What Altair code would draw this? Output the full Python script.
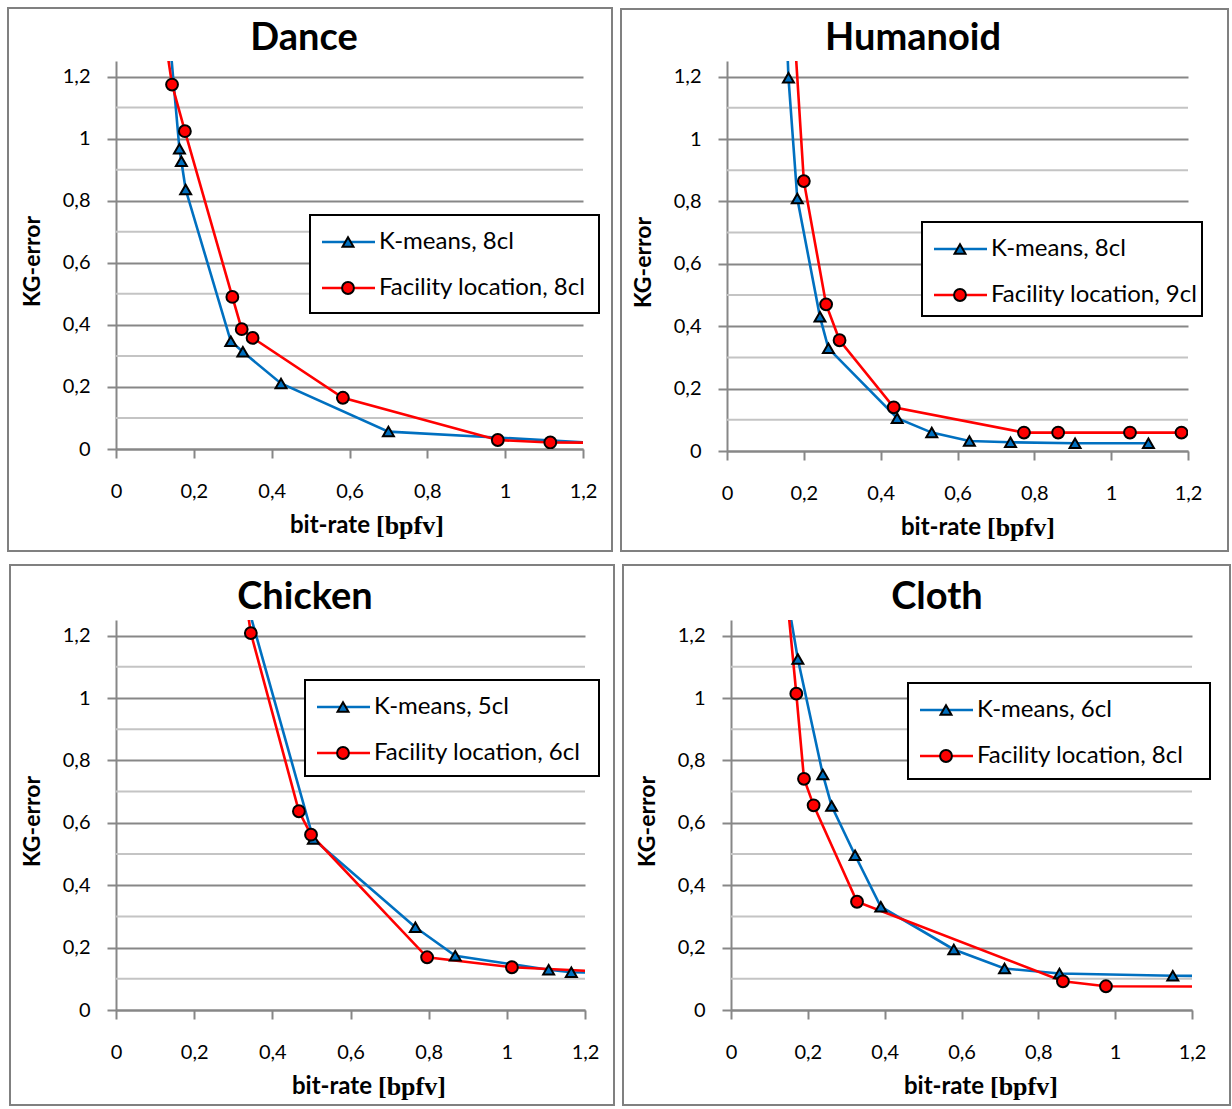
import altair as alt
import pandas as pd

# ---------------- data ----------------
panel_titles = ["Dance", "Humanoid", "Chicken", "Cloth"]
km_labels = ["K-means, 8cl", "K-means, 8cl", "K-means, 5cl", "K-means, 6cl"]
fl_labels = ["Facility location, 8cl", "Facility location, 9cl",
             "Facility location, 6cl", "Facility location, 8cl"]

axis_ticks = [0, 0.2, 0.4, 0.6, 0.8, 1.0, 1.2]
minor_grid = [0.1, 0.3, 0.5, 0.7, 0.9, 1.1]

dance_km_x = [0.129, 0.163, 0.168, 0.179, 0.295, 0.326, 0.424, 0.700, 1.30]
dance_km_y = [1.45, 0.967, 0.927, 0.836, 0.347, 0.313, 0.211, 0.056, 0.015]
dance_fl_x = [0.115, 0.144, 0.177, 0.299, 0.323, 0.351, 0.583, 0.981, 1.116, 1.30]
dance_fl_y = [1.42, 1.174, 1.024, 0.490, 0.386, 0.358, 0.165, 0.029, 0.021, 0.02]

humanoid_km_x = [0.152, 0.160, 0.183, 0.242, 0.264, 0.443, 0.533, 0.631, 0.738, 0.906, 1.097]
humanoid_km_y = [1.45, 1.196, 0.809, 0.430, 0.329, 0.105, 0.059, 0.032, 0.028, 0.025, 0.025]
humanoid_fl_x = [0.170, 0.200, 0.258, 0.293, 0.434, 0.773, 0.862, 1.049, 1.183]
humanoid_fl_y = [1.45, 0.865, 0.470, 0.355, 0.140, 0.059, 0.059, 0.059, 0.059]

chicken_km_x = [0.325, 0.505, 0.766, 0.868, 1.107, 1.165, 1.30]
chicken_km_y = [1.35, 0.548, 0.265, 0.174, 0.129, 0.121, 0.117]
chicken_fl_x = [0.328, 0.345, 0.468, 0.499, 0.796, 1.013, 1.30]
chicken_fl_y = [1.35, 1.208, 0.637, 0.562, 0.169, 0.137, 0.120]

cloth_km_x = [0.136, 0.174, 0.239, 0.262, 0.323, 0.390, 0.580, 0.712, 0.855, 1.150, 1.30]
cloth_km_y = [1.40, 1.125, 0.755, 0.654, 0.496, 0.331, 0.194, 0.133, 0.117, 0.110, 0.108]
cloth_fl_x = [0.140, 0.170, 0.190, 0.215, 0.328, 0.864, 0.976, 1.30]
cloth_fl_y = [1.40, 1.014, 0.741, 0.656, 0.347, 0.092, 0.076, 0.075]

series = [
    (dance_km_x, dance_km_y, dance_fl_x, dance_fl_y),
    (humanoid_km_x, humanoid_km_y, humanoid_fl_x, humanoid_fl_y),
    (chicken_km_x, chicken_km_y, chicken_fl_x, chicken_fl_y),
    (cloth_km_x, cloth_km_y, cloth_fl_x, cloth_fl_y),
]

# ---------------- layout / style ----------------
BLUE = "#0070C0"
RED = "#FF0000"
GRID_DARK = "#878787"
GRID_LIGHT = "#C4C4C4"
FONT = "Lato"

# per panel: plot width, plot height, border (x0, x1, y0, y1) relative to plot
plot_sizes = [(467, 388), (461, 390), (469, 390), (461, 390)]
borders = [(-108, 496, -53, 490), (-106, 501, -52, 490),
           (-106, 498, -55, 485), (-108, 499, -55, 485)]
# legend boxes (x0, x1, y0, y1) relative to plot area, and title centre x
legend_boxes = [(194, 483, 154, 252), (195, 475, 161, 255),
                (189, 483, 60, 156), (177, 479, 63, 159)]
title_centres = [188, 186, 189, 206]
xtitle_split = [257, 257, 259, 256]

LABEL_EXPR = "replace(format(datum.value, '.1~f'), '.', ',')"


def panel(k):
    W, H = plot_sizes[k]
    kx, ky, fx, fy = series[k]
    km = pd.DataFrame({"x": kx, "y": ky, "i": list(range(len(kx)))})
    fl = pd.DataFrame({"x": fx, "y": fy, "i": list(range(len(fx)))})
    one = pd.DataFrame({"a": [0]})
    minor = pd.DataFrame({"v": minor_grid})

    xs = alt.Scale(domain=[0, 1.2], nice=False, zero=False)
    ys = alt.Scale(domain=[0, 1.25], nice=False, zero=False)

    xaxis = alt.Axis(values=axis_ticks, labelExpr=LABEL_EXPR, grid=False,
                     domainColor=GRID_DARK, domainWidth=2,
                     tickColor=GRID_DARK, tickWidth=2, tickSize=9,
                     labelFont=FONT, labelFontSize=20, labelColor="black",
                     labelPadding=23, labelFlush=False, title=None)
    yaxis = alt.Axis(values=axis_ticks, labelExpr=LABEL_EXPR, grid=True,
                     gridColor=GRID_DARK, gridWidth=2,
                     domainColor=GRID_DARK, domainWidth=2,
                     tickColor=GRID_DARK, tickWidth=2, tickSize=9,
                     labelFont=FONT, labelFontSize=20, labelColor="black",
                     labelPadding=17, labelFlush=False,
                     title="KG-error", titleFont=FONT, titleFontSize=23,
                     titleFontWeight="bold", titleColor="black",
                     titleX=-84, titleY=H / 2 + 6, titleAngle=-90,
                     titleAlign="center", titleBaseline="middle")

    bx, bx2, by, by2 = borders[k]
    border = alt.Chart(one).mark_rect(
        fill="white", fillOpacity=0, stroke="#808080", strokeWidth=2
    ).encode(x=alt.value(bx), x2=alt.value(bx2),
             y=alt.value(by), y2=alt.value(by2))

    minor_rules = alt.Chart(minor).mark_rule(
        color=GRID_LIGHT, strokeWidth=2
    ).encode(y=alt.Y("v:Q", scale=ys, axis=yaxis))

    km_line = alt.Chart(km).mark_line(color=BLUE, strokeWidth=2.6, clip=True).encode(
        x=alt.X("x:Q", scale=xs, axis=xaxis),
        y=alt.Y("y:Q", scale=ys, axis=yaxis),
        order=alt.Order("i:Q"),
    )
    km_pts = alt.Chart(km).mark_point(
        shape="triangle-up", filled=True, fill=BLUE, stroke="black",
        strokeWidth=2, size=120, opacity=1, clip=True
    ).encode(x=alt.X("x:Q", scale=xs, axis=xaxis), y=alt.Y("y:Q", scale=ys, axis=yaxis))
    fl_line = alt.Chart(fl).mark_line(color=RED, strokeWidth=2.6, clip=True).encode(
        x=alt.X("x:Q", scale=xs, axis=xaxis),
        y=alt.Y("y:Q", scale=ys, axis=yaxis),
        order=alt.Order("i:Q"),
    )
    fl_pts = alt.Chart(fl).mark_point(
        shape="circle", filled=True, fill=RED, stroke="black",
        strokeWidth=2, size=140, opacity=1, clip=True
    ).encode(x=alt.X("x:Q", scale=xs, axis=xaxis), y=alt.Y("y:Q", scale=ys, axis=yaxis))

    bx0, bx1, by0, by1 = legend_boxes[k]
    r1 = by0 + 27
    r2 = by0 + 73
    leg_box = alt.Chart(one).mark_rect(
        fill="white", stroke="black", strokeWidth=2
    ).encode(x=alt.value(bx0), x2=alt.value(bx1), y=alt.value(by0), y2=alt.value(by1))
    leg_l1 = alt.Chart(one).mark_rule(color=BLUE, strokeWidth=2.6).encode(
        x=alt.value(bx0 + 12), x2=alt.value(bx0 + 65), y=alt.value(r1))
    leg_l2 = alt.Chart(one).mark_rule(color=RED, strokeWidth=2.6).encode(
        x=alt.value(bx0 + 12), x2=alt.value(bx0 + 65), y=alt.value(r2))
    leg_p1 = alt.Chart(one).mark_point(
        shape="triangle-up", filled=True, fill=BLUE, stroke="black",
        strokeWidth=2, size=120, opacity=1
    ).encode(x=alt.value(bx0 + 38), y=alt.value(r1))
    leg_p2 = alt.Chart(one).mark_point(
        shape="circle", filled=True, fill=RED, stroke="black",
        strokeWidth=2, size=140, opacity=1
    ).encode(x=alt.value(bx0 + 38), y=alt.value(r2))
    leg_t1 = alt.Chart(one).mark_text(
        align="left", baseline="middle", font=FONT, fontSize=24, color="black"
    ).encode(x=alt.value(bx0 + 69), y=alt.value(r1), text=alt.value(km_labels[k]))
    leg_t2 = alt.Chart(one).mark_text(
        align="left", baseline="middle", font=FONT, fontSize=24, color="black"
    ).encode(x=alt.value(bx0 + 69), y=alt.value(r2), text=alt.value(fl_labels[k]))

    title = alt.Chart(one).mark_text(
        align="center", baseline="middle", font=FONT, fontSize=38,
        fontWeight="bold", color="black"
    ).encode(x=alt.value(title_centres[k]), y=alt.value(-22),
             text=alt.value(panel_titles[k]))

    sx = xtitle_split[k]
    xt1 = alt.Chart(one).mark_text(
        align="right", baseline="middle", font=FONT, fontSize=24,
        fontWeight="bold", color="black"
    ).encode(x=alt.value(sx - 3), y=alt.value(H + 77), text=alt.value("bit-rate"))
    xt2 = alt.Chart(one).mark_text(
        align="left", baseline="middle", font="Liberation Serif", fontSize=26,
        fontWeight="bold", color="black"
    ).encode(x=alt.value(sx + 3), y=alt.value(H + 77), text=alt.value("[bpfv]"))

    return alt.layer(
        border, minor_rules, km_line, fl_line, km_pts, fl_pts,
        leg_box, leg_l1, leg_l2, leg_p1, leg_p2, leg_t1, leg_t2,
        title, xt1, xt2
    ).properties(width=W, height=H)


top = alt.hconcat(panel(0), panel(1), spacing=7)
bottom = alt.hconcat(panel(2), panel(3), spacing=7)
chart = alt.vconcat(top, bottom, spacing=12).properties(
    padding={"left": 7, "top": 7, "right": 0, "bottom": 0},
    background="white",
).configure_view(stroke=None)

chart.save("out.html", embed_options={"renderer": "svg", "actions": False})
